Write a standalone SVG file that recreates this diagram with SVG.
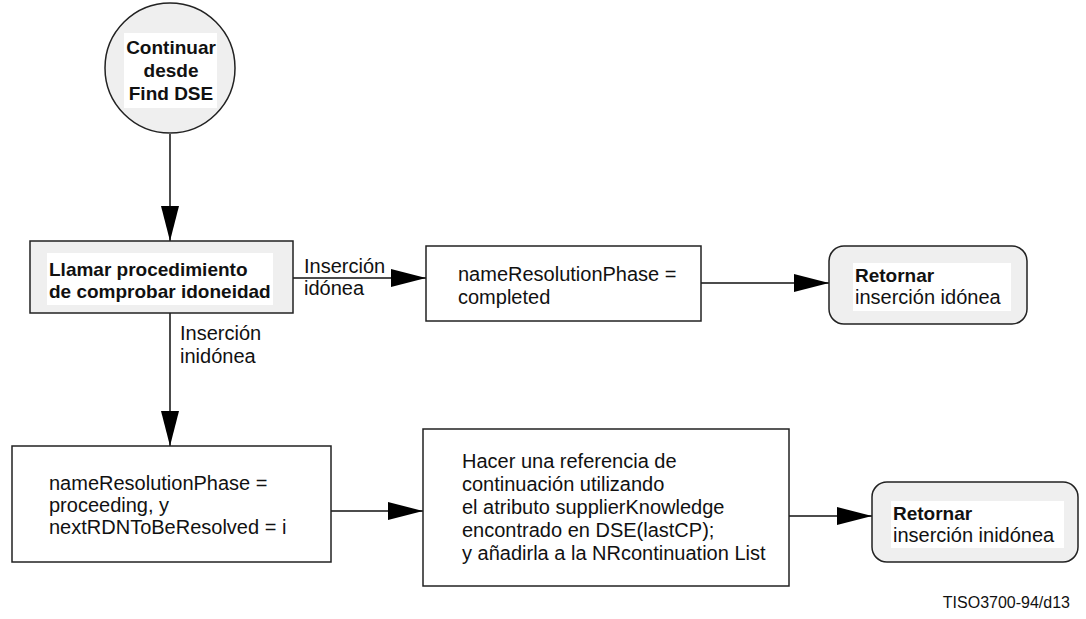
<svg xmlns="http://www.w3.org/2000/svg" width="1086" height="619" viewBox="0 0 1086 619">
<style>
.box{fill:#ffffff;stroke:#222;stroke-width:1.5}
.grey{fill:#efefef;stroke:#222;stroke-width:1.5}
.bg{fill:#ffffff;stroke:none}
.t{font-family:"Liberation Sans",Arial,sans-serif;font-size:20px;fill:#111}
.b{font-family:"Liberation Sans",Arial,sans-serif;font-size:19px;font-weight:bold;fill:#111}
.c{text-anchor:middle}
.ln{stroke:#111;stroke-width:1.5;fill:none}
</style>
<defs>
<marker id="ah" markerUnits="userSpaceOnUse" markerWidth="38" markerHeight="20" refX="35" refY="9" orient="auto">
<path d="M0,0 L35,9 L0,18 Z" fill="#000"/>
</marker>
</defs>
<rect width="1086" height="619" fill="#ffffff"/>
<g id="connectors">
<line class="ln" x1="170" y1="134" x2="170" y2="241" marker-end="url(#ah)"/>
<line class="ln" x1="293" y1="278" x2="426" y2="278" marker-end="url(#ah)"/>
<line class="ln" x1="701" y1="283" x2="829" y2="283" marker-end="url(#ah)"/>
<line class="ln" x1="170" y1="313" x2="170" y2="446" marker-end="url(#ah)"/>
<line class="ln" x1="331" y1="511" x2="423" y2="511" marker-end="url(#ah)"/>
<line class="ln" x1="789" y1="516" x2="872" y2="516" marker-end="url(#ah)"/>
<text class="t" x="304" y="273">Inserción</text>
<text class="t" x="304" y="295">idónea</text>
<text class="t" x="180" y="340">Inserción</text>
<text class="t" x="180" y="363">inidónea</text>
</g>
<g id="start">
<circle class="grey" cx="170" cy="68" r="65"/>
<rect class="bg" x="124" y="33" width="93" height="75"/>
<text class="b c" x="171" y="54">Continuar</text>
<text class="b c" x="171" y="77">desde</text>
<text class="b c" x="171" y="100">Find DSE</text>
</g>
<g id="check">
<rect class="grey" x="30" y="241" width="263" height="72"/>
<rect class="bg" x="47" y="253" width="226" height="52"/>
<text class="b" x="49" y="276">Llamar procedimiento</text>
<text class="b" x="49" y="298">de comprobar idoneidad</text>
</g>
<g id="completed">
<rect class="box" x="426" y="246" width="275" height="75"/>
<text class="t" x="458" y="281">nameResolutionPhase =</text>
<text class="t" x="458" y="304">completed</text>
</g>
<g id="return1">
<rect class="grey" x="829" y="246" width="198" height="78" rx="15" ry="15"/>
<rect class="bg" x="853" y="263" width="158" height="48"/>
<text class="b" x="855" y="282">Retornar</text>
<text class="t" x="855" y="304">inserción idónea</text>
</g>
<g id="proceeding">
<rect class="box" x="12" y="446" width="319" height="116"/>
<text class="t" x="49" y="490">nameResolutionPhase =</text>
<text class="t" x="49" y="512">proceeding, y</text>
<text class="t" x="49" y="534">nextRDNToBeResolved = i</text>
</g>
<g id="reference">
<rect class="box" x="423" y="429" width="366" height="157"/>
<text class="t" x="462" y="468">Hacer una referencia de</text>
<text class="t" x="462" y="491">continuación utilizando</text>
<text class="t" x="462" y="514">el atributo supplierKnowledge</text>
<text class="t" x="462" y="537">encontrado en DSE(lastCP);</text>
<text class="t" x="462" y="560">y añadirla a la NRcontinuation List</text>
</g>
<g id="return2">
<rect class="grey" x="872" y="482" width="206" height="80" rx="15" ry="15"/>
<rect class="bg" x="891" y="501" width="173" height="47"/>
<text class="b" x="893" y="520">Retornar</text>
<text class="t" x="893" y="542">inserción inidónea</text>
</g>
<text class="t" x="1070" y="608" style="font-size:16px;text-anchor:end">TISO3700-94/d13</text>
</svg>
